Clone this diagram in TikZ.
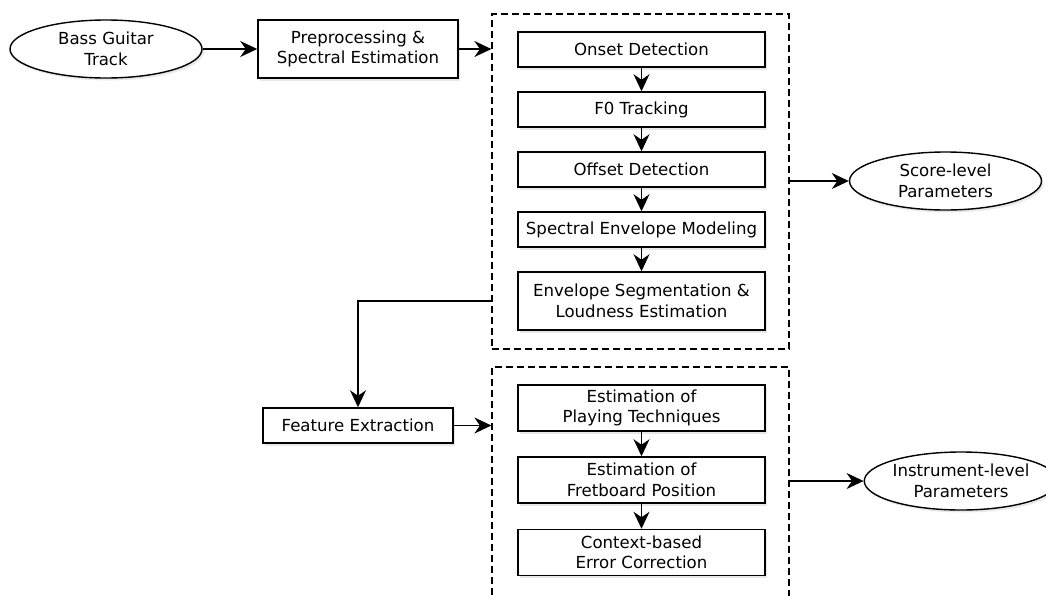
\documentclass[tikz,border=0pt]{standalone}
\usepackage{fontspec}
\setmainfont{DejaVu Sans}
\usetikzlibrary{arrows.meta,shapes.geometric,shadows}
\begin{document}
\begin{tikzpicture}[x=1pt,y=-1pt,
  shade/.style={drop shadow={opacity=0.18,shadow xshift=2pt,shadow yshift=-2.5pt}},
  txt/.style={font=\fontsize{16.6}{20.5}\selectfont, align=center, inner sep=0pt},
  box/.style={txt, draw, line width=1.5pt, fill=white, shade, minimum width=#1},
  box/.default=247,
  oval/.style={txt, ellipse, draw, line width=1.4pt, fill=white, shade, minimum width=192, minimum height=58},
  group/.style={draw, dashed, dash pattern=on 7pt off 4pt, line width=1.2pt, inner sep=0pt},
  tip/.tip={Stealth[length=17pt,width=16pt,inset=5.5pt]},
  conn/.style={line width=1.5pt, -tip},
  plain/.style={line width=1.5pt}
]
\useasboundingbox (0,0) rectangle (1046,595);
% groups
\node[group, minimum width=297, minimum height=335] (g1) at (640.5,181.5) {};
\node[group, minimum width=297, minimum height=263] (g2) at (640.5,498.5) {};
% left column
\node[oval] (bass) at (106,49) {Bass Guitar\\Track};
\node[box=200, minimum height=58] (pre) at (358,49) {Preprocessing \&\\Spectral Estimation};
\node[box=190, minimum height=35] (fe) at (358,425.5) {Feature Extraction};
% group 1
\node[box, minimum height=35] (onset) at (641.5,49.5) {Onset Detection};
\node[box, minimum height=35] (f0) at (641.5,109.5) {F0 Tracking};
\node[box, minimum height=35] (offset) at (641.5,169.5) {Offset Detection};
\node[box, minimum height=35] (spec) at (641.5,229.5) {Spectral Envelope Modeling};
\node[box, minimum height=58] (env) at (641.5,301) {Envelope Segmentation \&\\Loudness Estimation};
% group 2
\node[box, minimum height=46] (play) at (641.5,408) {Estimation of\\Playing Techniques};
\node[box, minimum height=46] (fret) at (641.5,480) {Estimation of\\Fretboard Position};
\node[box, minimum height=46] (ctx) at (641.5,552.5) {Context-based\\Error Correction};
% outputs
\node[oval] (score) at (945.5,181) {Score-level\\Parameters};
\node[oval] (inst) at (961,481) {Instrument-level\\Parameters};
% connectors
\draw[conn] (bass) -- (pre);
\draw[conn] (pre) -- (pre -| g1.west);
\draw[conn] (onset) -- (f0);
\draw[conn] (f0) -- (offset);
\draw[conn] (offset) -- (spec);
\draw[conn] (spec) -- (env);
\draw[conn] (g1.east |- score) -- (score);
\draw[conn] (g1.west |- env) -| (fe);
\draw[conn] (fe) -- (fe -| g2.west);
\draw[conn] (play) -- (fret);
\draw[conn] (fret) -- (ctx);
\draw[conn] (g2.east |- inst) -- (inst);
\end{tikzpicture}
\end{document}
